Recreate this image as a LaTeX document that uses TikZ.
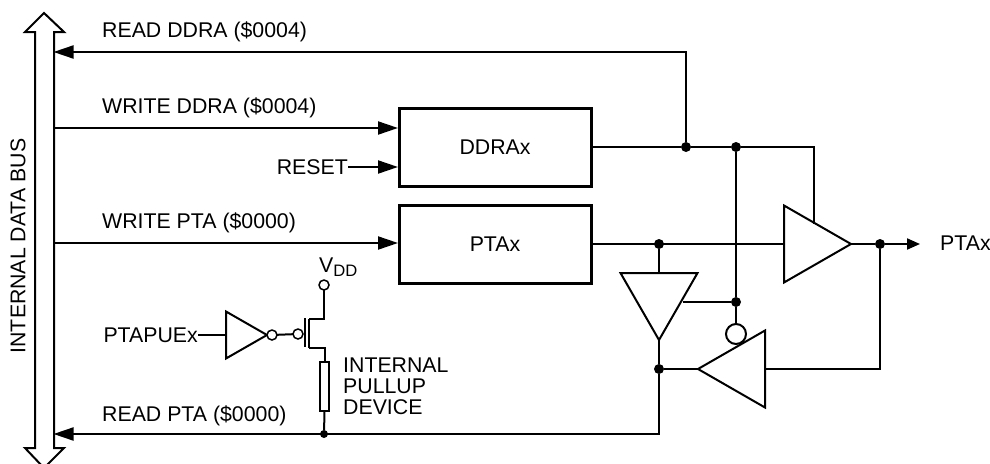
\documentclass[tikz,border=0pt]{standalone}
\usepackage{fontspec}
\setmainfont{Liberation Sans}
\usetikzlibrary{arrows.meta, shapes.geometric}

\begin{document}
\begin{tikzpicture}[
    x=1pt, y=-1pt,
    wire/.style={line width=2pt},
    arr/.style={wire, -{Triangle[length=20pt, width=13pt]}, shorten >=-0.5pt},
    arrsmall/.style={wire, -{Triangle[length=13pt, width=11pt]}},
    box/.style={draw, line width=3pt, minimum width=192pt, minimum height=78pt, inner sep=0pt},
    label/.style={font=\fontsize{21.3}{21}\selectfont, inner sep=0pt, anchor=base west},
    buf/.style={draw, line width=2pt, fill=white, isosceles triangle, isosceles triangle stretches, minimum width=77pt, minimum height=67pt, inner sep=0pt, outer sep=0pt},
    dot/.style={circle, fill=black, minimum size=10pt, inner sep=0pt, outer sep=0pt},
    bubble/.style={circle, draw, line width=1.5pt, fill=white, minimum size=10pt, inner sep=0pt, outer sep=0pt}
]
\useasboundingbox (0,0) rectangle (990,463);

\draw[wire, fill=white] (35,32) -- (25,32) -- (44,13) -- (64,32) -- (54,32) -- (54,448) -- (64,448) -- (44,468) -- (25,448) -- (35,448) -- cycle;
\node[label, rotate=90, anchor=center] (busl) at (18,246) {INTERNAL DATA BUS};

\coordinate (busrd) at (54,52);
\coordinate (buswd) at (54,128);
\coordinate (buswp) at (54,243);
\coordinate (busrp) at (54,434);

\node[box] (ddrax) at (495,147) {\fontsize{21.3}{21}\selectfont DDRAx};
\node[box] (ptax) at (495,244) {\fontsize{21.3}{21}\selectfont PTAx};

\node[buf, anchor=apex] (ampr) at (851,244) {};
\node[buf, anchor=apex, shape border rotate=270] (ampd) at (659,340) {};
\node[buf, anchor=apex, shape border rotate=180] (ampl) at (698,369) {};

\node[dot] (jddr) at (686,147) {};
\node[dot] (jen) at (736,147) {};
\node[dot] (jenb) at (736,302) {};
\node[dot] (jpta) at (659,244) {};
\node[dot] (jout) at (880,244) {};
\node[dot] (jbuf) at (659,369) {};
\node[dot, minimum size=8pt] (jpull) at (324,434) {};
\coordinate (enr) at (814,224);
\coordinate (enb) at (683,302);
\coordinate (outend) at (920,244);

\draw[arr] (jddr) |- (busrd);
\draw[wire] (ddrax.east) -- (jddr) -- (jen) -| (enr);
\draw[wire] (jen) -- (jenb) -- (736,325);
\draw[wire] (jenb) -- (enb);
\node[bubble, minimum size=20pt, line width=2pt] (bub) at (736,334) {};
\draw[arr] (buswd) -- (buswd -| ddrax.west);
\draw[arr] (buswp) -- (buswp -| ptax.west);
\draw[wire] (ptax.east) -- (ampr.lower side);
\draw[wire] (ampr.apex) -- (jout);
\draw[arrsmall] (jout) -- (outend);
\draw[wire] (jout) |- (ampl.lower side);
\draw[wire] (ampl.apex) -- (jbuf);
\draw[wire] (jpta) -- (ampd.lower side);
\draw[wire] (ampd.apex) -- (jbuf);
\draw[arr] (jbuf) |- (busrp);

\node[label] (lrd) at (102,37) {READ DDRA (\$0004)};
\node[label] (lwd) at (102,113) {WRITE DDRA (\$0004)};
\node[label] (lwp) at (102,228) {WRITE PTA (\$0000)};
\node[label] (lrp) at (102,421) {READ PTA (\$0000)};
\node[label, anchor=base east] (lrst) at (348,174) {RESET};
\draw[arr] (lrst.east |- 0,167) -- (ddrax.west |- 0,167);
\node[label] (lout) at (940,250) {PTAx};

\node[label, anchor=base east] (lpue) at (198,342) {PTAPUEx};
\node[draw, line width=2pt, isosceles triangle, isosceles triangle stretches, minimum width=47pt, minimum height=41pt, inner sep=0pt, outer sep=0pt, anchor=apex] (inv) at (267,335) {};
\node[bubble] (invb) at (272,335) {};
\node[bubble] (gate) at (298,334) {};
\draw[wire] (lpue.east |- inv.lower side) -- (inv.lower side);
\draw[wire] (invb) -- (gate);

\coordinate (gbt) at (305,318);
\coordinate (gbb) at (305,347);
\coordinate (cht) at (309,319);
\coordinate (chb) at (309,348);
\draw[wire] (gbt) -- (gbb);
\draw[wire] (cht) -- (chb);

\node[bubble] (vdd) at (324,285) {};
\node[label] (lvdd) at (319,272) {V\raisebox{-4pt}{\fontsize{16.6}{17}\selectfont DD}};
\node[draw, line width=2.4pt, minimum width=9pt, minimum height=49pt, inner sep=0pt, outer sep=0pt] (pull) at (324.5,386.5) {};
\draw[wire] (vdd) |- (cht);
\draw[wire] (chb) -| (pull.north);
\draw[wire] (pull.south) -- (jpull);
\node[label, anchor=north west, align=left] (lpull) at (343,358) {INTERNAL\\PULLUP\\DEVICE};
\end{tikzpicture}
\end{document}
